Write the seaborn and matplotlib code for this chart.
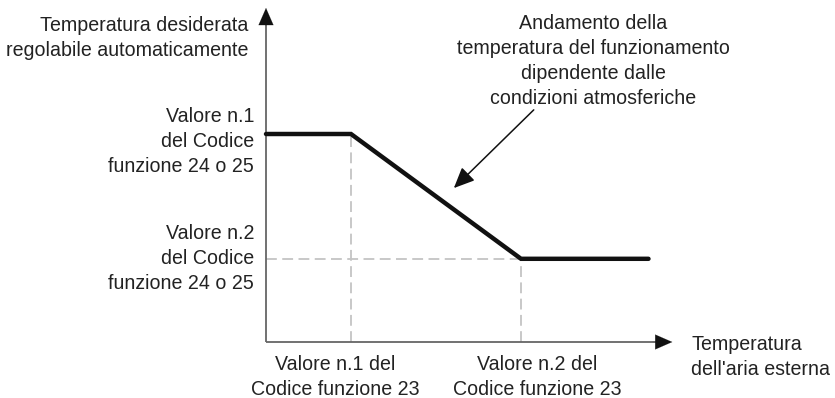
import seaborn as sns
import matplotlib.pyplot as plt

# curve breakpoints (outdoor temperature -> target temperature, arbitrary units)
outdoor_temp = [0, 1, 3, 4.5]
target_temp = [5, 5, 2, 2]

x_tick_pos = [1, 3]
x_label_pos = [0.81, 3.19]
x_tick_labels = ["Valore n.1 del\nCodice funzione 23", "Valore n.2 del\nCodice funzione 23"]
y_tick_pos = [5, 2]
y_label_pos = [4.81, 2.0]
y_tick_labels = ["Valore n.1\ndel Codice\nfunzione 24 o 25", "Valore n.2\ndel Codice\nfunzione 24 o 25"]

sns.set_style("white")
plt.rcParams['font.family'] = ['Liberation Sans', 'DejaVu Sans']
fs = 14.1
txt = '#222222'

fig = plt.figure(figsize=(8.35, 3.98), dpi=100)
ax = fig.add_axes([266 / 835, 56 / 398, 4.75 * 85 / 835, 8 * 41.6 / 398])
ax.set_xlim(0, 4.75)
ax.set_ylim(0, 8)
ax.axis('off')

# dashed guides
ax.plot([x_tick_pos[0], x_tick_pos[0]], [0, target_temp[1]], color='#c4c4c4', lw=1.3, ls=(0, (6, 3)))
ax.plot([x_tick_pos[1], x_tick_pos[1]], [0, target_temp[2]], color='#c4c4c4', lw=1.3, ls=(0, (6, 3)))
ax.plot([0, x_tick_pos[1]], [y_tick_pos[1], y_tick_pos[1]], color='#c4c4c4', lw=1.3, ls=(0, (6, 3)))

# axes with arrow heads
ax.plot([0, 4.6], [0, 0], color='#666666', lw=1.3, clip_on=False, solid_capstyle='butt')
ax.plot([0, 0], [0, 7.7], color='#666666', lw=1.3, clip_on=False, solid_capstyle='butt')
head = dict(arrowstyle='-|>,head_length=0.87,head_width=0.38', color='#111111', lw=0.1,
            mutation_scale=14, shrinkA=0, shrinkB=0)
ax.annotate('', xy=(4.78, 0), xytext=(4.55, 0), arrowprops=head, annotation_clip=False)
ax.annotate('', xy=(0, 8.03), xytext=(0, 7.6), arrowprops=head, annotation_clip=False)

# weather-dependent curve
sns.lineplot(x=outdoor_temp, y=target_temp, ax=ax, color='#111111', lw=3.2,
             sort=False, clip_on=False, solid_joinstyle='miter')

# pointer arrow
ax.annotate('', xy=(2.21, 3.70), xytext=(3.15, 5.58),
            arrowprops=dict(arrowstyle='-|>,head_length=0.9,head_width=0.4', color='#111111',
                            lw=1.1, mutation_scale=14, shrinkA=0, shrinkB=0))

# labels
for y, lab in zip(y_label_pos, y_tick_labels):
    ax.text(-0.14, y, lab, ha='right', va='center', fontsize=fs, color=txt,
            linespacing=1.4, clip_on=False)
for x, lab in zip(x_label_pos, x_tick_labels):
    ax.text(x, -0.84, lab, ha='center', va='center', fontsize=fs, color=txt,
            linespacing=1.4, clip_on=False)

ax.text(-0.21, 7.30, "Temperatura desiderata\nregolabile automaticamente", ha='right', va='center',
        fontsize=fs, color=txt, linespacing=1.4)
ax.text(5.0, -0.35, "Temperatura\ndell'aria esterna", ha='left', va='center',
        fontsize=fs, color=txt, linespacing=1.4)
ax.text(3.85, 6.75, "Andamento della\ntemperatura del funzionamento\ndipendente dalle\ncondizioni atmosferiche",
        ha='center', va='center', fontsize=fs, color=txt, linespacing=1.4)

fig.savefig('out.png', dpi=100, facecolor='white')
